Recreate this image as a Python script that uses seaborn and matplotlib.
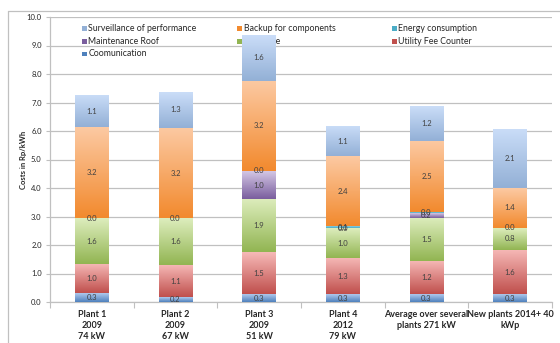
import numpy as np
import pandas as pd
import matplotlib
matplotlib.use("Agg")
import matplotlib.pyplot as plt
from matplotlib.colors import LinearSegmentedColormap
from matplotlib.patches import Rectangle
from matplotlib.lines import Line2D
import seaborn as sns

# ---- data (Rp/kWh) ----
categories = [
    "Plant 1\n2009\n74 kW",
    "Plant 2\n2009\n67 kW",
    "Plant 3\n2009\n51 kW",
    "Plant 4\n2012\n79 kW",
    "Average over several\nplants 271 kW",
    "New plants 2014+ 40\nkWp",
]
communication = [0.30, 0.17, 0.27, 0.27, 0.27, 0.27]
utility_fee = [1.03, 1.13, 1.47, 1.28, 1.17, 1.56]
insurance = [1.61, 1.63, 1.88, 1.03, 1.51, 0.77]
maintenance_roof = [np.nan, np.nan, 0.97, 0.01, 0.16, np.nan]
energy_consumption = [0.01, 0.01, 0.02, 0.08, 0.04, 0.01]
backup_components = [3.18, 3.17, 3.16, 2.44, 2.51, 1.38]
surveillance = [1.14, 1.26, 1.61, 1.06, 1.22, 2.09]

# stacking order bottom -> top, with (top colour, bottom colour) for the gradient fill
series = [
    ("Coomunication", communication, "#AFC8EC", "#4F81BD"),
    ("Utility Fee Counter", utility_fee, "#F6B9B7", "#C0504D"),
    ("Insurance", insurance, "#DDEDBD", "#92B552"),
    ("Maintenance Roof", maintenance_roof, "#D3C6E4", "#7A5E9E"),
    ("Energy consumption", energy_consumption, "#A6DCEC", "#4BACC6"),
    ("Backup for components", backup_components, "#FCC9A2", "#F28A2E"),
    ("Surveillance of performance", surveillance, "#CADDF8", "#93B0D6"),
]

sns.set_theme(style="white")
plt.rcParams["font.family"] = ["Lato", "DejaVu Sans"]

fig = plt.figure(figsize=(5.6, 3.43), dpi=100)
ax = fig.add_axes([50 / 560, 1 - 302 / 343, 502 / 560, 285 / 343])

grid_c = "#C0C0C0"
text_c = "#262626"

bottom = np.zeros(len(categories))
segments = []  # (category index, label centre, value)
for si, (name, vals, ctop, cbot) in enumerate(series):
    arr = np.array(vals, dtype=float)
    present = ~np.isnan(arr)
    h = np.nan_to_num(arr)
    n_before = len(ax.patches)
    sns.barplot(x=categories, y=h, bottom=bottom, color=cbot, width=0.4,
                ax=ax, zorder=3, linewidth=0, saturation=1)
    new_patches = ax.patches[n_before:]
    cmap = LinearSegmentedColormap.from_list(name, [cbot, ctop])
    grad = np.linspace(0, 1, 64).reshape(-1, 1)
    for ci, p in enumerate(new_patches):
        x0, y0 = p.get_x(), p.get_y()
        w, hh = p.get_width(), p.get_height()
        if hh > 0:
            im = ax.imshow(grad, extent=(x0, x0 + w, y0, y0 + hh), origin="lower",
                           aspect="auto", cmap=cmap, zorder=3.5)
            im.set_clip_path(p)
        if present[ci]:
            segments.append((ci, bottom[ci] + h[ci] / 2, arr[ci]))
    bottom = bottom + h

for ci, yc, v in segments:
    ax.text(ci, yc, f"{v:.1f}", ha="center", va="center", fontsize=5.5,
            color="#404040", zorder=5)

ax.set_xlim(-0.5, len(categories) - 0.5)
ax.set_ylim(0, 10)
ax.set_yticks(np.arange(0, 10.01, 1.0))
ax.set_yticklabels([f"{t:.1f}" for t in np.arange(0, 10.01, 1.0)])
ax.yaxis.grid(True, color=grid_c, linewidth=0.9, zorder=0)
ax.set_axisbelow(True)

for side in ("top", "right"):
    ax.spines[side].set_visible(False)
for side in ("left", "bottom"):
    ax.spines[side].set_color(grid_c)
    ax.spines[side].set_linewidth(0.9)

ax.tick_params(axis="y", which="major", left=True, length=3, width=0.8,
               color=grid_c, labelsize=5.5, labelcolor=text_c, pad=3)
ax.set_xticks(range(len(categories)))
ax.set_xticklabels(categories, fontsize=6.5, fontweight="bold", color=text_c,
                   linespacing=1.25)
ax.tick_params(axis="x", which="major", length=0, pad=6)
ax.set_xticks(np.arange(-0.5, len(categories), 1.0), minor=True)
ax.tick_params(axis="x", which="minor", bottom=True, length=4, width=0.8,
               color=grid_c)
ax.set_xlabel("")
ax.set_ylabel("Costs in Rp/kWh", fontsize=5.5, fontweight="bold", color=text_c)
ax.yaxis.set_label_coords((27 - 50) / 502, 0.5)

# legend entries laid out in three columns, drawn beneath the bars
legend_cols = [82, 237, 392]
legend_rows = [28.8, 41.5, 54]
legend_order = [6, 5, 4, 3, 2, 1, 0]
for k, si in enumerate(legend_order):
    name, _, ctop, cbot = series[si]
    px = legend_cols[k % 3]
    py = legend_rows[k // 3]
    fx, fy = px / 560, 1 - py / 343
    fig.add_artist(Rectangle((fx, fy - 2 / 343), 4.5 / 560, 4.5 / 343,
                             transform=fig.transFigure, facecolor=cbot,
                             edgecolor="none", zorder=1))
    fig.text(fx + 6.5 / 560, fy, name, fontsize=6.3, color=text_c, va="center",
             ha="left", zorder=1)
ax.set_zorder(2)
ax.patch.set_alpha(0)

# chart area frame
fig.add_artist(Line2D([8 / 560, 1], [1 - 11 / 343] * 2, color=grid_c, lw=0.9))
fig.add_artist(Line2D([8 / 560] * 2, [0, 1 - 11 / 343], color=grid_c, lw=0.9))

fig.savefig("out.png", dpi=100)
